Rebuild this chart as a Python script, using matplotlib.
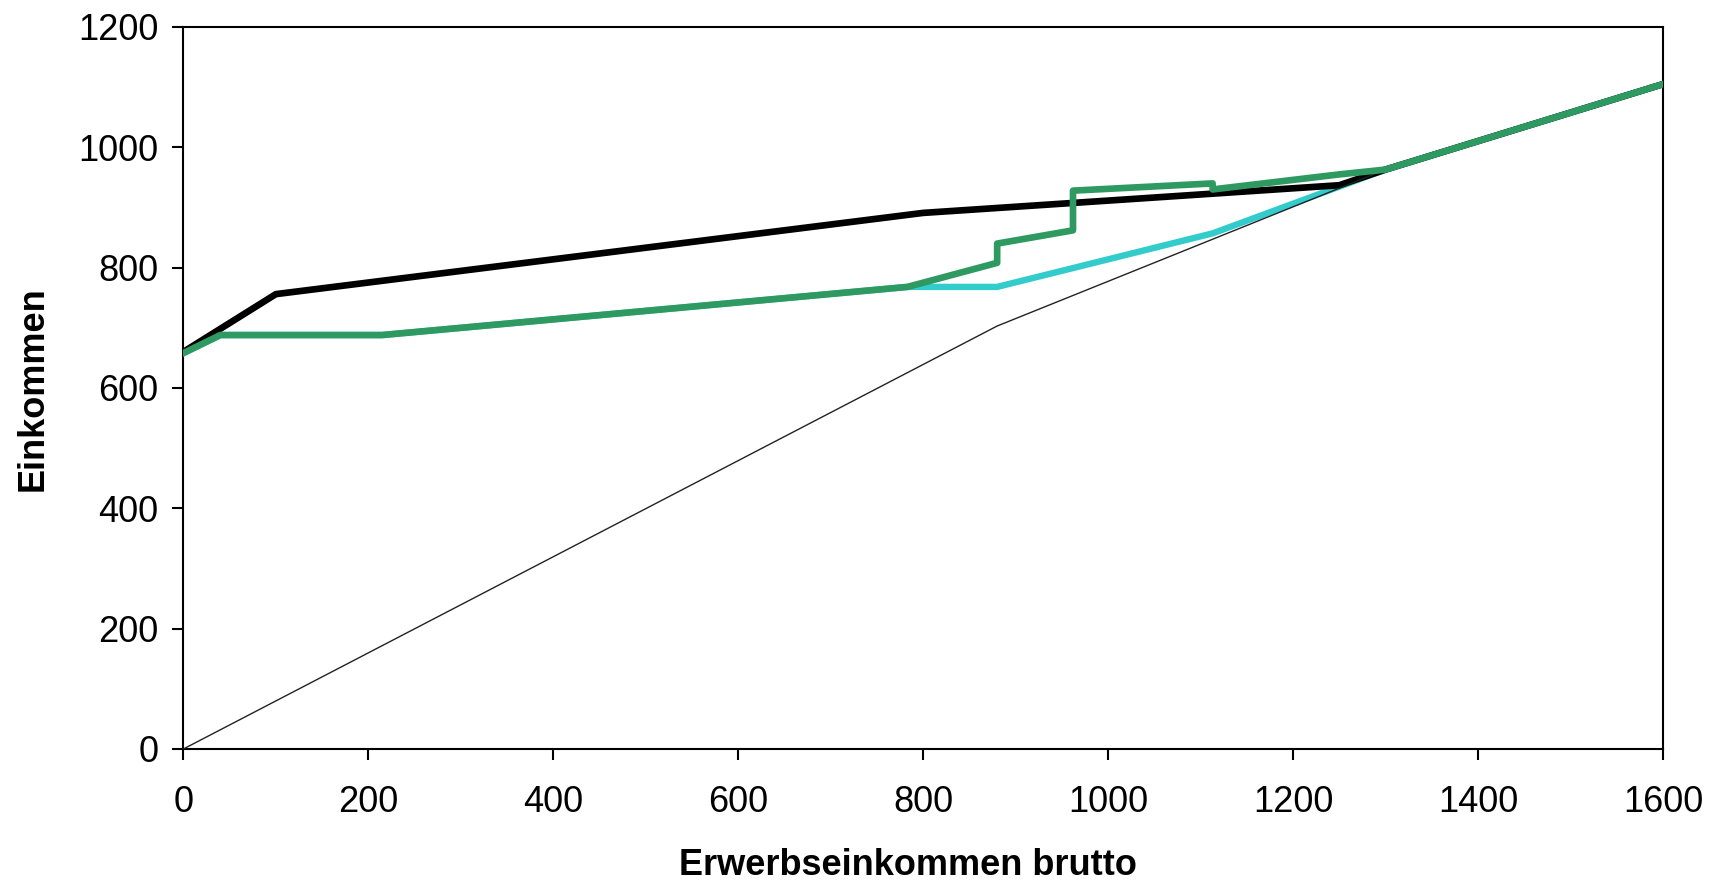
import matplotlib
matplotlib.use("Agg")
import matplotlib.pyplot as plt

# Data
thin_x = [0, 880, 1300, 1600]
thin_y = [0, 703, 963, 1105]

black_x = [0, 100, 800, 1250, 1300, 1600]
black_y = [660, 756, 891, 937, 963, 1105]

green_x = [0, 40, 215, 783, 880, 880, 962, 962, 1113, 1113, 1250, 1300, 1600]
green_y = [658, 688, 688, 768, 808, 840, 862, 928, 940, 930, 955, 963, 1105]

cyan_x = [0, 40, 215, 783, 880, 1113, 1300, 1600]
cyan_y = [658, 688, 688, 768, 768, 857, 963, 1105]

x_ticks = [0, 200, 400, 600, 800, 1000, 1200, 1400, 1600]
y_ticks = [0, 200, 400, 600, 800, 1000, 1200]

x_label = "Erwerbseinkommen brutto"
y_label = "Einkommen"

plt.rcParams['font.family'] = ['Liberation Sans', 'DejaVu Sans']

fig = plt.figure(figsize=(17.19, 8.85), dpi=100)
ax = fig.add_axes([0.1067, 0.1537, 0.8607, 0.8158])

ax.plot(black_x, black_y, color='#000000', lw=4.8, solid_joinstyle='miter', zorder=3)
ax.plot(cyan_x, cyan_y, color='#33cccc', lw=4.6, zorder=2)
ax.plot(thin_x, thin_y, color='#222222', lw=1.0, zorder=4)
ax.plot(green_x, green_y, color='#2e9a62', lw=4.8, zorder=5)

ax.set_xlim(0, 1600)
ax.set_ylim(0, 1200)
ax.set_xticks(x_ticks)
ax.set_yticks(y_ticks)
ax.tick_params(axis='both', direction='out', length=8, width=1.5, labelsize=26)
ax.tick_params(axis='x', pad=18)
ax.tick_params(axis='y', pad=10)

for s in ['left', 'bottom', 'right', 'top']:
    ax.spines[s].set_linewidth(1.5)

ax.set_xlabel(x_label, fontsize=26, fontweight='bold')
ax.set_ylabel(y_label, fontsize=26, fontweight='bold')
ax.xaxis.set_label_coords(0.49, -0.162)
ax.xaxis.label.set_va('center')
ax.yaxis.set_label_coords(-0.1017, 0.4986)
ax.yaxis.label.set_va('center')

fig.savefig("out.png", dpi=100)
